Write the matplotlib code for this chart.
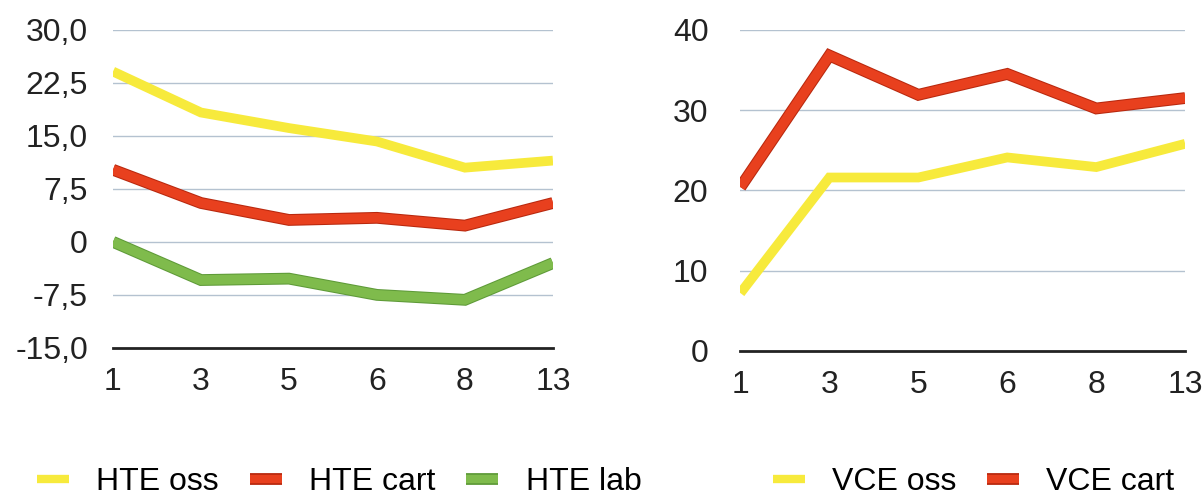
import matplotlib
matplotlib.use("Agg")
import matplotlib.pyplot as plt
import matplotlib.patheffects as pe

# categories on the x axis (same for both panels)
categories = ["1", "3", "5", "6", "8", "13"]

# left panel (HTE)
hte_oss = [24.1, 18.3, 16.1, 14.2, 10.5, 11.5]
hte_cart = [10.2, 5.5, 3.1, 3.4, 2.3, 5.5]
hte_lab = [0.0, -5.4, -5.2, -7.5, -8.2, -3.0]
left_ticks = [-15.0, -7.5, 0.0, 7.5, 15.0, 22.5, 30.0]
left_tick_labels = ["-15,0", "-7,5", "0", "7,5", "15,0", "22,5", "30,0"]

# right panel (VCE)
vce_oss = [7.2, 21.6, 21.6, 24.1, 22.9, 25.8]
vce_cart = [20.4, 36.8, 31.9, 34.5, 30.2, 31.5]
right_ticks = [0, 10, 20, 30, 40]
right_tick_labels = ["0", "10", "20", "30", "40"]

YELLOW = "#f7ea3c"
RED = "#e8401e"
RED_EDGE = "#b8280e"
GREEN = "#7fbb4c"
GREEN_EDGE = "#5e9a38"
GRID = "#b4c2d0"
FS = 23

plt.rcParams["font.family"] = ["Liberation Sans", "DejaVu Sans"]
plt.rcParams["font.size"] = FS

fig = plt.figure(figsize=(12.02, 4.97), dpi=100)
ax1 = fig.add_axes([0.094, 0.300, 0.366, 0.640])
ax2 = fig.add_axes([0.616, 0.294, 0.370, 0.646])

x = list(range(len(categories)))
LW = 7


def series(ax, values, color, label, edge=None):
    effects = None
    if edge is not None:
        effects = [pe.Stroke(linewidth=LW + 1.5, foreground=edge), pe.Normal()]
    ax.plot(x, values, color=color, lw=LW, label=label,
            solid_joinstyle="miter", solid_capstyle="butt",
            path_effects=effects, zorder=3)


def style(ax, ticks, labels, pad_y):
    ax.set_xlim(0, len(categories) - 1)
    ax.set_ylim(ticks[0], ticks[-1])
    ax.set_yticks(ticks)
    ax.set_yticklabels(labels)
    ax.set_xticks(x)
    ax.set_xticklabels(categories)
    ax.tick_params(length=0, colors="#222222", labelsize=FS)
    ax.tick_params(axis="y", pad=pad_y)
    ax.tick_params(axis="x", pad=14)
    for t in ticks[1:]:
        ax.axhline(t, color=GRID, lw=1.0, zorder=1)
    for s in ["top", "right", "left"]:
        ax.spines[s].set_visible(False)
    ax.spines["bottom"].set_linewidth(2)
    ax.spines["bottom"].set_color("#222222")
    ax.spines["bottom"].set_zorder(2)


series(ax1, hte_oss, YELLOW, "HTE oss")
series(ax1, hte_cart, RED, "HTE cart", RED_EDGE)
series(ax1, hte_lab, GREEN, "HTE lab", GREEN_EDGE)
style(ax1, left_ticks, left_tick_labels, 18)

series(ax2, vce_oss, YELLOW, "VCE oss")
series(ax2, vce_cart, RED, "VCE cart", RED_EDGE)
style(ax2, right_ticks, right_tick_labels, 23)

for ax, x0 in [(ax1, 0.031), (ax2, 0.643)]:
    leg = ax.legend(loc="center left", bbox_to_anchor=(x0, 0.03),
                    bbox_transform=fig.transFigure, ncol=3, frameon=False,
                    handlelength=1.0, handletextpad=0.85, columnspacing=0.97,
                    fontsize=FS, borderpad=0, borderaxespad=0)
    for h in leg.legend_handles:
        h.set_linewidth(6)

fig.savefig("out.png", dpi=100, facecolor="white")
